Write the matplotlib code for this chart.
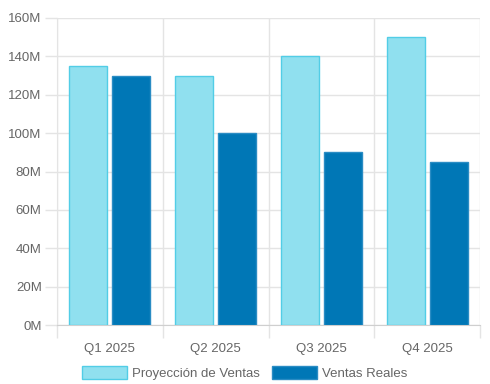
import matplotlib
matplotlib.use("Agg")
import matplotlib.pyplot as plt
from matplotlib.patches import Patch
from matplotlib.ticker import FuncFormatter, MultipleLocator
import numpy as np

categories = ["Q1 2025", "Q2 2025", "Q3 2025", "Q4 2025"]
proyeccion = [135, 130, 140, 150]
reales = [130, 100, 90, 85]
series_names = ["Proyección de Ventas", "Ventas Reales"]

plt.rcParams['font.family'] = ['Liberation Sans', 'DejaVu Sans']

fig = plt.figure(figsize=(4.9, 3.84), dpi=100)
ax = fig.add_axes([57/490, 1-325/384, (480-57)/490, (325-18)/384])

x = np.arange(len(categories))
w = 0.358
off = 0.203
light_fc, light_ec = "#90e0ef", "#52cde6"
dark_fc, dark_ec = "#0077b6", "#2a8cc4"
ax.bar(x - off, proyeccion, w, color=light_fc, edgecolor=light_ec, linewidth=1, zorder=3)
ax.bar(x + off, reales, w, color=dark_fc, edgecolor=dark_ec, linewidth=1, zorder=3)

ax.set_xlim(-0.5, len(categories) - 0.5)
ax.set_ylim(0, 160)
ax.yaxis.set_major_locator(MultipleLocator(20))
ax.yaxis.set_major_formatter(FuncFormatter(lambda v, p: f"{int(v)}M"))

ax.set_xticks(x)
ax.set_xticklabels(categories)
ax.set_xticks(np.arange(-0.5, len(categories)), minor=True)

grid_c = "#e4e4e4"
fs = 9.5
ax.grid(axis='y', which='major', color=grid_c, linewidth=1, zorder=0)
ax.grid(axis='x', which='minor', color=grid_c, linewidth=1, zorder=0)
ax.tick_params(axis='x', which='major', length=0, pad=13, labelsize=fs, labelcolor="#666666")
ax.tick_params(axis='x', which='minor', length=9, color=grid_c, width=1)
ax.tick_params(axis='y', which='major', length=9, color=grid_c, width=1, pad=2, labelsize=fs, labelcolor="#666666")

for s in ["top", "right"]:
    ax.spines[s].set_visible(False)
ax.spines["left"].set_color(grid_c)
ax.spines["bottom"].set_color("#cfcfcf")

handles = [Patch(facecolor=light_fc, edgecolor=light_ec, linewidth=1),
           Patch(facecolor=dark_fc, edgecolor=dark_ec, linewidth=1)]
leg = fig.legend(handles, series_names, loc="center", bbox_to_anchor=(0.5, 1-373/384),
                 ncol=2, frameon=False, fontsize=fs, handlelength=3.4, handleheight=1.1,
                 handletextpad=0.4, columnspacing=0.9, borderaxespad=0)
for t in leg.get_texts():
    t.set_color("#666666")

fig.savefig("out.png", dpi=100)
